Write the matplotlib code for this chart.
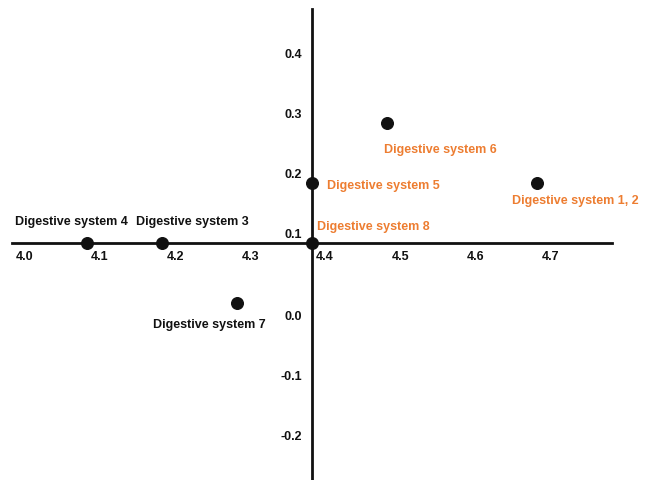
import matplotlib
matplotlib.use('Agg')
import matplotlib.pyplot as plt
import matplotlib.transforms as mtransforms

plt.rcParams['font.family'] = ['Liberation Sans', 'DejaVu Sans']
plt.rcParams['font.weight'] = 'bold'

# points on the map
names = ['Digestive system 4', 'Digestive system 3', 'Digestive system 7', 'Digestive system 8',
         'Digestive system 5', 'Digestive system 6', 'Digestive system 1, 2']
xs = [4.1, 4.2, 4.3, 4.4, 4.4, 4.5, 4.7]
ys = [0.1, 0.1, 0.0, 0.1, 0.2, 0.3, 0.2]

xticks = [4.0, 4.1, 4.2, 4.3, 4.4, 4.5, 4.6, 4.7]
yticks = [-0.2, -0.1, 0.0, 0.1, 0.2, 0.3, 0.4]

orange = '#ED7D31'
dark = '#111111'
label_colors = [dark, dark, dark, orange, orange, orange, orange]
# offsets (points) and alignment for each label
offsets = [(-11.5, 15), (21.6, 15), (-60.5, -15.8), (3.6, 11.5), (10.8, -2.2), (-2.2, -19.4), (-18, -13)]
aligns = ['center', 'center', 'left', 'left', 'left', 'left', 'left']

fig = plt.figure(figsize=(6.49, 4.8), dpi=100)
ax = fig.add_axes([0, 0, 1, 1])
ax.set_xlim(3.984, 4.849)
ax.set_ylim(-0.295, 0.505)

for s in ['top', 'right']:
    ax.spines[s].set_visible(False)
ax.spines['bottom'].set_position(('data', 0.1))
ax.spines['bottom'].set_bounds(4.0, 4.8)
ax.spines['left'].set_position(('data', 4.4))
ax.spines['left'].set_bounds(-0.3, 0.49)
for s in ['bottom', 'left']:
    ax.spines[s].set_linewidth(2.0)
    ax.spines[s].set_color(dark)
ax.patch.set_visible(False)

ax.set_xticks(xticks)
ax.set_xticklabels([f'{v:.1f}' for v in xticks])
ax.set_yticks(yticks)
ax.set_yticklabels([f'{v:.1f}' for v in yticks])
ax.tick_params(axis='x', length=0, pad=5.5, labelsize=9, labelcolor=dark)
ax.tick_params(axis='y', length=0, pad=7.5, labelsize=9, labelcolor=dark)

# shift tick labels like the original drawing
for lab in ax.get_xticklabels():
    lab.set_transform(lab.get_transform() + mtransforms.ScaledTranslation(0.13, 0, fig.dpi_scale_trans))
for v, lab in zip(yticks, ax.get_yticklabels()):
    dy = 0.10 if v > 0.05 else -0.12
    lab.set_transform(lab.get_transform() + mtransforms.ScaledTranslation(0, dy, fig.dpi_scale_trans))

ax.scatter(xs, ys, s=70, color=dark, zorder=5, clip_on=False)

for n, x, y, c, off, ha in zip(names, xs, ys, label_colors, offsets, aligns):
    ax.annotate(n, (x, y), xytext=off, textcoords='offset points', ha=ha, va='center',
                color=c, fontsize=9, fontweight='bold')

fig.savefig('out.png', dpi=100)
